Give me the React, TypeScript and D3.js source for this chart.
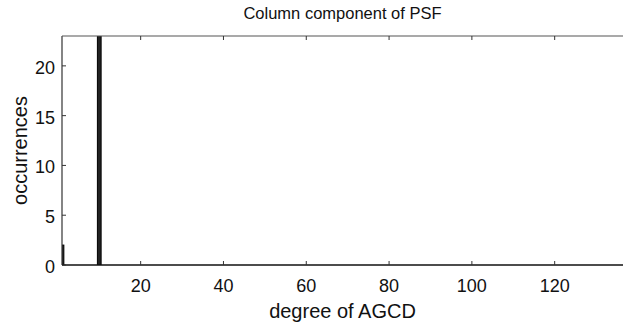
import React from 'react'
import * as d3 from 'd3'

// histogram bins that are non-zero (bin width 1)
const degrees = [1, 10]
const occurrences = [2, 25]
const xTicks = [20, 40, 60, 80, 100, 120]
const yTicks = [0, 5, 10, 15, 20]

export default function App() {
  const W = 623, H = 328
  const m = { l: 62, r: 0, t: 36, b: 63 }
  const x = d3.scaleLinear().domain([1, 136.5]).range([m.l, W - m.r])
  const y = d3.scaleLinear().domain([0, 23]).range([H - m.b, m.t])
  const font = 'Liberation Sans, Arial, Helvetica, sans-serif'
  const tick = 4

  return (
    <svg width={W} height={H} style={{ position: 'absolute', left: 0, top: 0, background: '#fff' }} fontFamily={font}>
      <defs>
        <clipPath id="plot">
          <rect x={m.l} y={m.t} width={W - m.r - m.l} height={H - m.b - m.t} />
        </clipPath>
      </defs>
      <g clipPath="url(#plot)">
        {degrees.map((d, i) => (
          <rect key={d} x={x(d - 0.45)} width={x(d + 0.45) - x(d - 0.45)}
            y={y(occurrences[i])} height={y(0) - y(occurrences[i])}
            fill="#222" stroke="#000" strokeWidth={1} />
        ))}
      </g>
      {/* box: left, top, bottom */}
      <line x1={m.l} x2={m.l} y1={m.t} y2={y(0)} stroke="#333" strokeWidth={1.2} />
      <line x1={m.l} x2={W} y1={m.t} y2={m.t} stroke="#555" strokeWidth={1.2} />
      <line x1={m.l} x2={W} y1={y(0)} y2={y(0)} stroke="#111" strokeWidth={1.5} />
      {xTicks.map(t => (
        <g key={t}>
          <line x1={x(t)} x2={x(t)} y1={y(0)} y2={y(0) - tick} stroke="#333" />
          <line x1={x(t)} x2={x(t)} y1={m.t} y2={m.t + tick} stroke="#333" />
          <text x={x(t)} y={y(0) + 27} textAnchor="middle" fontSize={18} fill="#111">{t}</text>
        </g>
      ))}
      {yTicks.map(t => (
        <g key={t}>
          <line x1={m.l} x2={m.l + tick} y1={y(t)} y2={y(t)} stroke="#333" />
          <text x={m.l - 7} y={y(t) + 8} textAnchor="end" fontSize={18} fill="#111">{t}</text>
        </g>
      ))}
      <text x={(m.l + W) / 2} y={19} textAnchor="middle" fontSize={16.5} fill="#111">Column component of PSF</text>
      <text x={(m.l + W) / 2} y={318} textAnchor="middle" fontSize={20} fill="#111">degree of AGCD</text>
      <text transform={`translate(27, ${(m.t + y(0)) / 2}) rotate(-90)`} textAnchor="middle" fontSize={20} fill="#111">occurrences</text>
    </svg>
  )
}
